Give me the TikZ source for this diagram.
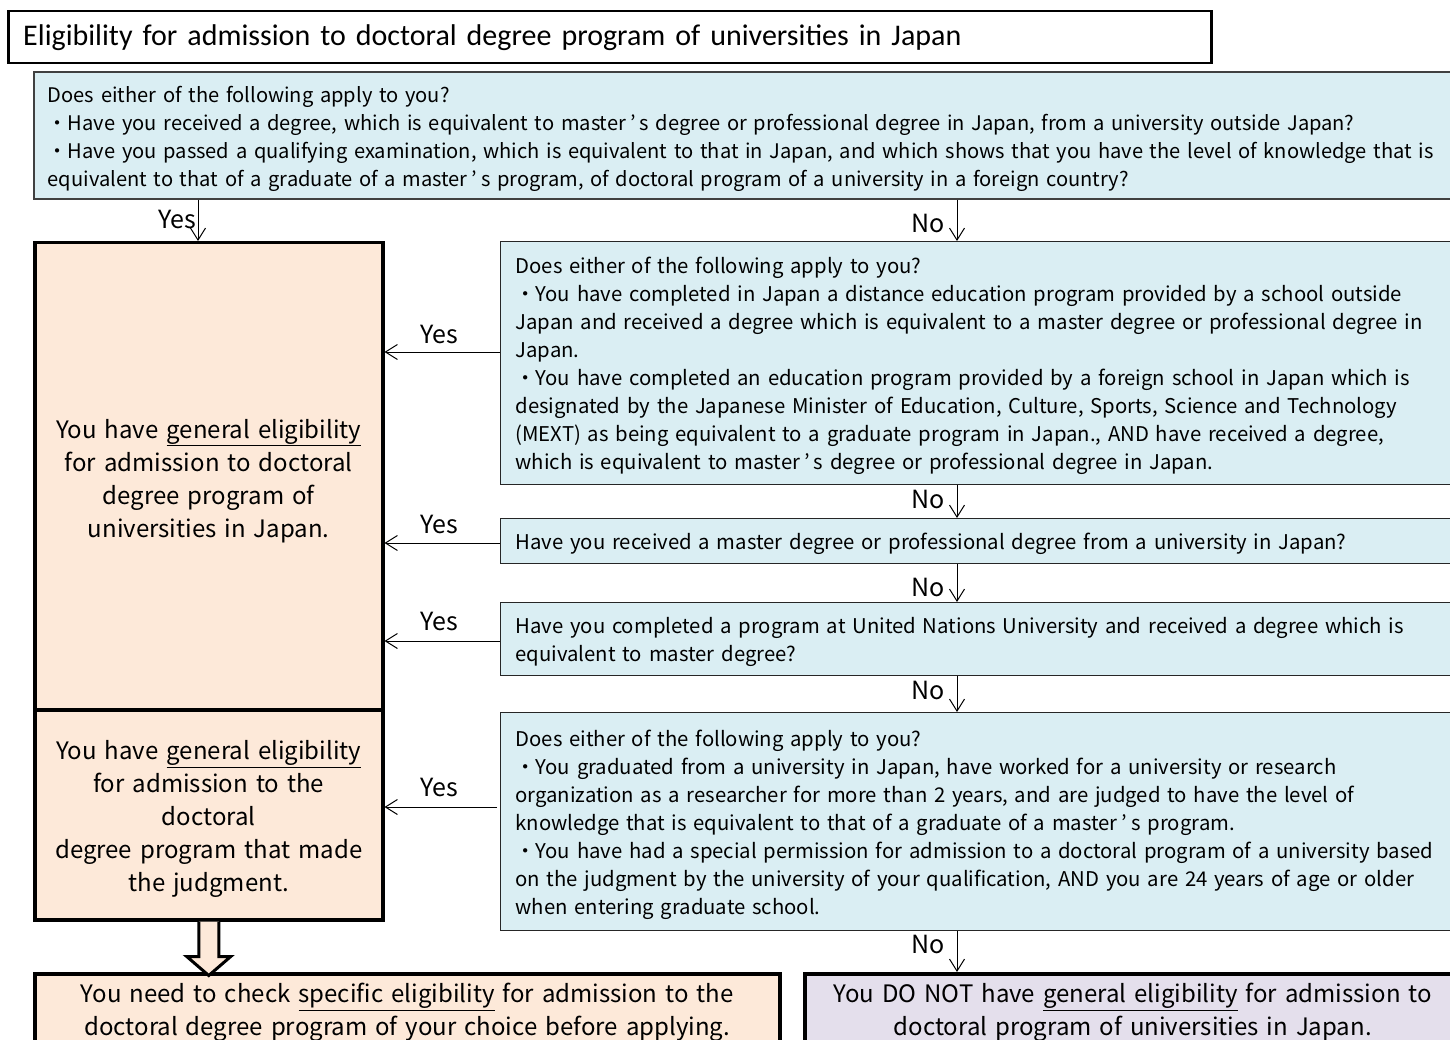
\documentclass[tikz,border=0pt]{standalone}
\usepackage{fontspec}
\newfontfamily\gothic{Noto Sans CJK JP}
\newfontfamily\titlef{Carlito}
\usetikzlibrary{arrows.meta,calc}
\definecolor{bluefill}{HTML}{DAEEF3}
\definecolor{peach}{HTML}{FDE9D9}
\definecolor{lav}{HTML}{E4DFEC}
\newcommand{\apo}{\hspace{4pt}’\hspace{4pt}}
\newcommand{\topstrut}{\rule{0pt}{23pt}}
\begin{document}
\begin{tikzpicture}[x=1pt,y=-1pt,
  qbox/.style={draw=black!85, line width=1pt, fill=bluefill, anchor=north west, inner xsep=15pt, inner ysep=0pt, text width=1000pt, align=left, font=\gothic\fontsize{20.3}{28}\selectfont},
  rbox/.style={draw=black, line width=3.5pt, fill=peach, anchor=north west, minimum width=348pt, text width=340pt, inner sep=0pt, align=center, font=\gothic\fontsize{24}{33}\selectfont},
  bbox/.style={draw=black, line width=3.5pt, anchor=north west, inner sep=0pt, align=center, font=\gothic\fontsize{24}{33}\selectfont},
  arr/.style={draw=black, line width=1pt, -{Straight Barb[length=12pt,width=15pt]}},
  lab/.style={font=\gothic\fontsize{25}{27}\selectfont, inner sep=0pt}
]
\useasboundingbox (0,0) rectangle (1450,1040);
\fill[white] (0,0) rectangle (1450,1040);

\node[draw=black, line width=2.5pt, anchor=north west, minimum width=1203pt, minimum height=52pt, text width=1173pt, inner xsep=15pt, inner ysep=0pt, align=left, font=\titlef\fontsize{30}{32}\selectfont] (title) at (7,10) {Eligibility for admission to doctoral degree program of universities in Japan};

\node[qbox, draw=black!75, line width=1.6pt, inner xsep=14pt, text width=1500pt, minimum height=127pt, font=\gothic\fontsize{20.1}{28}\selectfont] (q0) at (33,71) {\topstrut Does either of the following apply to you?\\
・Have you received a degree, which is equivalent to master\apo s degree or professional degree in Japan, from a university outside Japan?\\
・Have you passed a qualifying examination, which is equivalent to that in Japan, and which shows that you have the level of knowledge that is\\
equivalent to that of a graduate of a master\apo s program, of doctoral program of a university in a foreign country?};

\node[qbox, minimum height=243pt] (qA) at (500,241) {\topstrut Does either of the following apply to you?\\
・You have completed in Japan a distance education program provided by a school outside\\
Japan and received a degree which is equivalent to a master degree or professional degree in\\
Japan.\\
・You have completed an education program provided by a foreign school in Japan which is\\
designated by the Japanese Minister of Education, Culture, Sports, Science and Technology\\
(MEXT) as being equivalent to a graduate program in Japan., AND have received a degree,\\
which is equivalent to master\apo s degree or professional degree in Japan.};

\node[qbox, minimum height=45pt] (qB) at (500,518) {\topstrut Have you received a master degree or professional degree from a university in Japan?};

\node[qbox, minimum height=73pt] (qC) at (500,602) {\topstrut Have you completed a program at United Nations University and received a degree which is\\
equivalent to master degree?};

\node[qbox, minimum height=218pt] (qD) at (500,712) {\topstrut Does either of the following apply to you?\\
・You graduated from a university in Japan, have worked for a university or research\\
organization as a researcher for more than 2 years, and are judged to have the level of\\
knowledge that is equivalent to that of a graduate of a master\apo s program.\\
・You have had a special permission for admission to a doctoral program of a university based\\
on the judgment by the university of your qualification, AND you are 24 years of age or older\\
when entering graduate school.};

\node[rbox, minimum height=467pt] (r1) at (33,241) {\rule{0pt}{28pt}You have \underline{general eligibility}\\
for admission to doctoral\\
degree program of\\
universities in Japan.};

\node[rbox, minimum height=210pt] (r2) at (33,708) {\rule{0pt}{28pt}You have \underline{general eligibility}\\
for admission to the\\
doctoral\\
degree program that made\\
the judgment.};

\node[bbox, fill=peach, minimum width=745pt, minimum height=78pt, text width=735pt] (b1) at (33,972) {You need to check \underline{specific eligibility} for admission to the\\
doctoral degree program of your choice before applying.};

\node[bbox, fill=lav, minimum width=656pt, minimum height=78pt, text width=646pt] (b2) at (803,972) {You DO NOT have \underline{general eligibility} for admission to\\
doctoral program of universities in Japan.};

% coordinates for connectors
\coordinate (yx) at (198,0);
\coordinate (nx) at (957,0);
\coordinate (ya) at (0,352);
\coordinate (yb) at (0,543);
\coordinate (yc) at (0,641);
\coordinate (yd) at (0,807);

% Yes / No from top box
\draw[arr] (q0.south -| yx) -- (r1.north -| yx);
\node[lab, anchor=base east] (ly0) at (196,229) {Yes};
\draw[arr] (q0.south -| nx) -- (qA.north -| nx);
\node[lab, anchor=base east] (ln0) at (945,233) {No};

% No chain
\draw[arr] (qA.south -| nx) -- (qB.north -| nx);
\node[lab, anchor=base east] (ln1) at (945,508) {No};
\draw[arr] (qB.south -| nx) -- (qC.north -| nx);
\node[lab, anchor=base east] (ln2) at (945,596) {No};
\draw[arr] (qC.south -| nx) -- (qD.north -| nx);
\node[lab, anchor=base east] (ln3) at (945,699) {No};
\draw[arr] (qD.south -| nx) -- (b2.north -| nx);
\node[lab, anchor=base east] (ln4) at (945,953) {No};

% Yes arrows to the left
\draw[arr] (qA.west |- ya) -- (r1.east |- ya);
\node[lab, anchor=base] (ly1) at (439,344) {Yes};
\draw[arr] (qB.west |- yb) -- (r1.east |- yb);
\node[lab, anchor=base] (ly2) at (439,533) {Yes};
\draw[arr] (qC.west |- yc) -- (r1.east |- yc);
\node[lab, anchor=base] (ly3) at (439,630) {Yes};
\draw[arr] ([xshift=-3pt]qD.west |- yd) -- (r2.east |- yd);
\node[lab, anchor=base] (ly4) at (439,796) {Yes};

% hollow block arrow from r2 to b1
\begin{scope}[shift={(r2.south)}]
\draw[line width=3pt, fill=peach, line join=miter] (-10,0) -- (-10,35) -- (-22,35) -- (0,54) -- (22,35) -- (10,35) -- (10,0);
\end{scope}
\end{tikzpicture}
\end{document}
